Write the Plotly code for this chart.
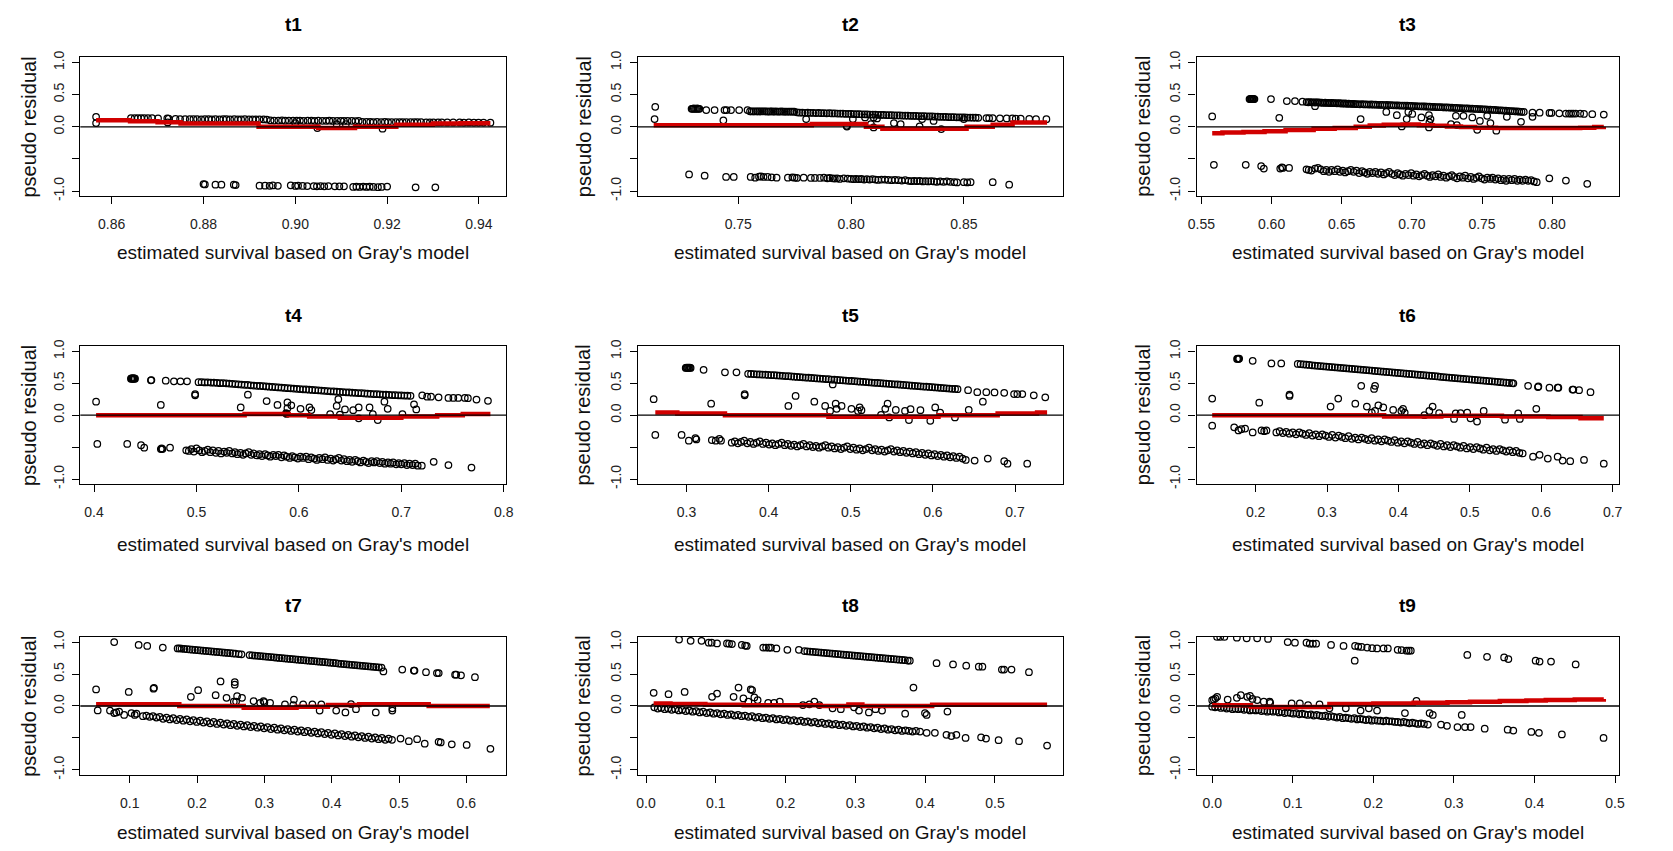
import plotly.graph_objects as go

# ---------------------------------------------------------------------------
# Data: pseudo residuals vs. estimated survival (Gray's model), nine time points
# Each *_PTS list holds (estimated survival, pseudo residual) pairs.
# Each *_FIT list holds the step points of the smoothed residual curve.
# ---------------------------------------------------------------------------
PANEL_TITLES = ["t1", "t2", "t3", "t4", "t5", "t6", "t7", "t8", "t9"]
X_LABEL = "estimated survival based on Gray's model"
Y_LABEL = "pseudo residual"

X_TICKS = [
    [0.86, 0.88, 0.90, 0.92, 0.94],
    [0.75, 0.80, 0.85],
    [0.55, 0.60, 0.65, 0.70, 0.75, 0.80],
    [0.4, 0.5, 0.6, 0.7, 0.8],
    [0.3, 0.4, 0.5, 0.6, 0.7],
    [0.2, 0.3, 0.4, 0.5, 0.6, 0.7],
    [0.1, 0.2, 0.3, 0.4, 0.5, 0.6],
    [0.0, 0.1, 0.2, 0.3, 0.4, 0.5],
    [0.0, 0.1, 0.2, 0.3, 0.4, 0.5],
]
X_TICK_TEXT = [
    ["0.86", "0.88", "0.90", "0.92", "0.94"],
    ["0.75", "0.80", "0.85"],
    ["0.55", "0.60", "0.65", "0.70", "0.75", "0.80"],
    ["0.4", "0.5", "0.6", "0.7", "0.8"],
    ["0.3", "0.4", "0.5", "0.6", "0.7"],
    ["0.2", "0.3", "0.4", "0.5", "0.6", "0.7"],
    ["0.1", "0.2", "0.3", "0.4", "0.5", "0.6"],
    ["0.0", "0.1", "0.2", "0.3", "0.4", "0.5"],
    ["0.0", "0.1", "0.2", "0.3", "0.4", "0.5"],
]
Y_TICKS = [-1.0, -0.5, 0.0, 0.5, 1.0]
Y_TICK_TEXT = ["-1.0", "", "0.0", "0.5", "1.0"]
Y_LIMITS = (-1.0, 1.0)

T1_PTS = [
    (0.8566, 0.155), (0.8566, 0.057), (0.8642, 0.135), (0.8650, 0.134), (0.8657, 0.135), (0.8664, 0.133),
    (0.8671, 0.134), (0.8679, 0.134), (0.8688, 0.133), (0.8701, 0.132), (0.8721, 0.131), (0.8724, 0.127),
    (0.8739, 0.122), (0.8749, 0.121), (0.8760, 0.120),
    (0.8770, 0.119), (0.8778, 0.118), (0.8786, 0.120), (0.8795, 0.117), (0.8803, 0.118), (0.8811, 0.119),
    (0.8818, 0.117), (0.8826, 0.118), (0.8835, 0.116), (0.8843, 0.118), (0.8850, 0.119), (0.8858, 0.117),
    (0.8867, 0.118), (0.8875, 0.116), (0.8882, 0.117), (0.8890, 0.118), (0.8899, 0.116), (0.8907, 0.117),
    (0.8914, 0.115), (0.8922, 0.116), (0.8931, 0.114), (0.8938, 0.112),
    (0.8946, 0.098), (0.8954, 0.097), (0.8963, 0.096), (0.8971, 0.098), (0.8978, 0.095), (0.8986, 0.096),
    (0.8995, 0.094), (0.9003, 0.095), (0.9010, 0.096), (0.9018, 0.093), (0.9027, 0.094), (0.9035, 0.095),
    (0.9042, 0.092), (0.9050, 0.094), (0.9059, 0.093), (0.9067, 0.092), (0.9074, 0.094), (0.9082, 0.091),
    (0.9091, 0.092), (0.9099, 0.093), (0.9106, 0.090), (0.9114, 0.091), (0.9123, 0.092), (0.9131, 0.089),
    (0.9138, 0.090),
    (0.9146, 0.076), (0.9155, 0.075), (0.9163, 0.077), (0.9170, 0.074), (0.9178, 0.075), (0.9187, 0.073),
    (0.9195, 0.075), (0.9202, 0.074), (0.9210, 0.072), (0.9219, 0.074), (0.9227, 0.073), (0.9234, 0.072),
    (0.9242, 0.073), (0.9251, 0.071), (0.9259, 0.072), (0.9266, 0.071), (0.9274, 0.072),
    (0.9285, 0.070), (0.9293, 0.069), (0.9301, 0.070), (0.9311, 0.068), (0.9319, 0.069), (0.9331, 0.068),
    (0.9344, 0.067), (0.9358, 0.068), (0.9367, 0.066), (0.9378, 0.067), (0.9389, 0.066), (0.9399, 0.065),
    (0.9410, 0.066), (0.9425, 0.064),
    (0.8722, 0.067), (0.9000, 0.057), (0.9048, -0.020), (0.9090, 0.040), (0.9110, 0.040), (0.9190, -0.030),
    (0.8800, -0.890), (0.8803, -0.895), (0.8826, -0.900), (0.8839, -0.900), (0.8866, -0.900), (0.8870, -0.905),
    (0.8922, -0.915), (0.8934, -0.915), (0.8944, -0.918), (0.8951, -0.912), (0.8962, -0.918), (0.8990, -0.910),
    (0.9000, -0.920), (0.9006, -0.915), (0.9016, -0.920), (0.9026, -0.922), (0.9040, -0.922), (0.9047, -0.925),
    (0.9055, -0.922), (0.9063, -0.925), (0.9072, -0.922), (0.9086, -0.925), (0.9096, -0.925), (0.9106, -0.925),
    (0.9126, -0.935), (0.9133, -0.930), (0.9140, -0.935), (0.9148, -0.928), (0.9155, -0.935), (0.9162, -0.930),
    (0.9170, -0.935), (0.9180, -0.938), (0.9188, -0.935), (0.9200, -0.928), (0.9262, -0.940), (0.9305, -0.940),
]
T1_FIT = [(0.8566, 0.100), (0.8640, 0.085), (0.8700, 0.070), (0.8750, 0.050), (0.8920, 0.000), (0.9050, -0.020),
          (0.9130, 0.000), (0.9220, 0.030), (0.9300, 0.050), (0.9360, 0.055), (0.9425, 0.055)]

T2_PTS = [
    (0.7132, 0.31), (0.7129, 0.12),
    (0.7293, 0.28), (0.7298, 0.28), (0.7303, 0.285), (0.7308, 0.28), (0.7313, 0.28), (0.7318, 0.285),
    (0.7323, 0.28), (0.7328, 0.28),
    (0.7358, 0.26), (0.7395, 0.26), (0.7434, 0.10), (0.7439, 0.26), (0.7448, 0.26), (0.7468, 0.26),
    (0.7504, 0.26), (0.7541, 0.26),
    (0.7552, 0.240), (0.7560, 0.239), (0.7568, 0.240), (0.7577, 0.238), (0.7585, 0.240), (0.7593, 0.239),
    (0.7601, 0.238), (0.7609, 0.240), (0.7617, 0.238), (0.7626, 0.239), (0.7634, 0.237), (0.7642, 0.238),
    (0.7650, 0.239), (0.7658, 0.237), (0.7666, 0.238), (0.7675, 0.236), (0.7683, 0.237), (0.7691, 0.238),
    (0.7699, 0.236), (0.7707, 0.237), (0.7715, 0.235), (0.7724, 0.236), (0.7732, 0.236), (0.7740, 0.234),
    (0.7748, 0.235),
    (0.7760, 0.225), (0.7772, 0.220), (0.7784, 0.222), (0.7796, 0.218), (0.7808, 0.220), (0.7820, 0.216),
    (0.7832, 0.218), (0.7844, 0.214), (0.7856, 0.215), (0.7868, 0.212), (0.7880, 0.213), (0.7892, 0.210),
    (0.7904, 0.211), (0.7916, 0.208), (0.7928, 0.209), (0.7940, 0.206), (0.7952, 0.205), (0.7964, 0.204),
    (0.7976, 0.202), (0.7988, 0.201), (0.8000, 0.200), (0.8012, 0.198), (0.8024, 0.197), (0.8036, 0.196),
    (0.8048, 0.194), (0.8060, 0.193), (0.8072, 0.192), (0.8084, 0.190), (0.8096, 0.189), (0.8108, 0.188),
    (0.8120, 0.186), (0.8132, 0.185), (0.8144, 0.184), (0.8156, 0.182), (0.8168, 0.181), (0.8180, 0.180),
    (0.8192, 0.178), (0.8204, 0.177), (0.8216, 0.176), (0.8228, 0.174), (0.8240, 0.173), (0.8252, 0.172),
    (0.8264, 0.170), (0.8276, 0.169), (0.8288, 0.168), (0.8300, 0.166), (0.8312, 0.165), (0.8324, 0.164),
    (0.8336, 0.162), (0.8348, 0.161), (0.8360, 0.160), (0.8372, 0.158), (0.8384, 0.157), (0.8396, 0.156),
    (0.8408, 0.154), (0.8420, 0.153), (0.8432, 0.152), (0.8444, 0.150), (0.8456, 0.149), (0.8468, 0.148),
    (0.8480, 0.147), (0.8492, 0.146), (0.8504, 0.145), (0.8516, 0.144), (0.8528, 0.143), (0.8540, 0.142),
    (0.8552, 0.141), (0.8564, 0.140),
    (0.8600, 0.135), (0.8612, 0.134), (0.8628, 0.134), (0.8660, 0.132), (0.8690, 0.130), (0.8715, 0.129),
    (0.8730, 0.128), (0.8752, 0.125), (0.8790, 0.122), (0.8820, 0.120), (0.8866, 0.118),
    (0.7801, 0.12), (0.7980, 0.015), (0.7982, 0.003), (0.8008, 0.12), (0.8062, 0.145), (0.8088, 0.04),
    (0.8100, 0.145), (0.8100, -0.01), (0.8115, 0.13), (0.8190, 0.057), (0.8220, 0.04), (0.8304, 0.005),
    (0.8315, 0.12), (0.8366, 0.09), (0.8400, -0.035), (0.8500, 0.12),
    (0.7282, -0.74), (0.7351, -0.76), (0.7446, -0.78), (0.7480, -0.78), (0.7555, -0.78), (0.7575, -0.79),
    (0.7592, -0.775), (0.7600, -0.77), (0.7612, -0.78), (0.7630, -0.78), (0.7648, -0.785), (0.7670, -0.79),
    (0.7720, -0.79), (0.7740, -0.785), (0.7750, -0.79), (0.7760, -0.795), (0.7790, -0.79), (0.7822, -0.795),
    (0.7840, -0.795), (0.7862, -0.795), (0.7880, -0.79), (0.7895, -0.80), (0.7905, -0.795), (0.7918, -0.80),
    (0.7928, -0.805), (0.7938, -0.80), (0.7950, -0.81), (0.7968, -0.80), (0.7985, -0.805), (0.8000, -0.81),
    (0.8012, -0.815), (0.8022, -0.81), (0.8034, -0.815), (0.8046, -0.81), (0.8058, -0.82), (0.8070, -0.815),
    (0.8082, -0.82), (0.8095, -0.815), (0.8108, -0.82), (0.8120, -0.825), (0.8135, -0.82), (0.8150, -0.82),
    (0.8165, -0.825), (0.8180, -0.83), (0.8195, -0.825), (0.8210, -0.83), (0.8225, -0.835), (0.8240, -0.83),
    (0.8255, -0.84), (0.8268, -0.845), (0.8280, -0.84), (0.8292, -0.845), (0.8305, -0.84), (0.8318, -0.85),
    (0.8330, -0.845), (0.8342, -0.85), (0.8355, -0.845), (0.8368, -0.85), (0.8380, -0.855), (0.8395, -0.85),
    (0.8410, -0.855), (0.8425, -0.85), (0.8440, -0.855), (0.8458, -0.86), (0.8470, -0.865), (0.8500, -0.86),
    (0.8515, -0.865), (0.8530, -0.86), (0.8628, -0.86), (0.8701, -0.90),
]
T2_FIT = [(0.7125, 0.025), (0.7826, 0.045), (0.8066, 0.000), (0.8139, -0.030), (0.8512, 0.000),
          (0.8628, 0.030), (0.8716, 0.065), (0.8869, 0.065)]

T3_PTS = [
    (0.5577, 0.16),
    (0.5843, 0.43), (0.5848, 0.43), (0.5853, 0.435), (0.5858, 0.43), (0.5863, 0.43), (0.5868, 0.435),
    (0.5873, 0.43), (0.5878, 0.43),
    (0.5996, 0.43), (0.6055, 0.14), (0.6109, 0.40), (0.6167, 0.40), (0.6220, 0.39),
    (0.6250, 0.385), (0.6262, 0.380), (0.6274, 0.385), (0.6286, 0.380), (0.6298, 0.378), (0.6310, 0.320),
    (0.6310, 0.380), (0.6322, 0.378), (0.6334, 0.380), (0.6346, 0.375), (0.6358, 0.376), (0.6370, 0.372),
    (0.6382, 0.374), (0.6394, 0.370), (0.6406, 0.372), (0.6418, 0.368), (0.6430, 0.370), (0.6442, 0.366),
    (0.6454, 0.367), (0.6466, 0.365), (0.6478, 0.366), (0.6490, 0.362), (0.6502, 0.363), (0.6514, 0.360),
    (0.6526, 0.362), (0.6538, 0.358), (0.6550, 0.360), (0.6562, 0.356), (0.6574, 0.357), (0.6586, 0.355),
    (0.6598, 0.354),
    (0.6614, 0.352), (0.6630, 0.350), (0.6646, 0.351), (0.6662, 0.348), (0.6678, 0.349), (0.6694, 0.346),
    (0.6710, 0.347), (0.6726, 0.344), (0.6742, 0.345), (0.6758, 0.342), (0.6774, 0.342), (0.6790, 0.340),
    (0.6806, 0.338), (0.6822, 0.339), (0.6838, 0.336), (0.6854, 0.336), (0.6870, 0.333), (0.6886, 0.334),
    (0.6902, 0.331), (0.6918, 0.330), (0.6934, 0.329), (0.6950, 0.327), (0.6966, 0.328), (0.6982, 0.325),
    (0.6998, 0.324), (0.7014, 0.322), (0.7030, 0.322), (0.7046, 0.319), (0.7062, 0.318), (0.7078, 0.316),
    (0.7094, 0.316), (0.7110, 0.313), (0.7126, 0.312), (0.7142, 0.310), (0.7158, 0.309), (0.7174, 0.307),
    (0.7190, 0.306), (0.7206, 0.304), (0.7222, 0.303), (0.7238, 0.301), (0.7254, 0.300), (0.7270, 0.298),
    (0.7286, 0.296), (0.7302, 0.295), (0.7318, 0.293), (0.7334, 0.291), (0.7350, 0.290), (0.7366, 0.288),
    (0.7382, 0.286), (0.7398, 0.285), (0.7414, 0.283), (0.7430, 0.281), (0.7446, 0.279), (0.7462, 0.278),
    (0.7478, 0.276), (0.7494, 0.274), (0.7510, 0.272), (0.7526, 0.270), (0.7542, 0.268), (0.7558, 0.266),
    (0.7574, 0.264), (0.7590, 0.262), (0.7606, 0.259), (0.7622, 0.257), (0.7638, 0.255), (0.7654, 0.252),
    (0.7670, 0.250), (0.7686, 0.248), (0.7702, 0.245), (0.7718, 0.243), (0.7734, 0.240), (0.7750, 0.238),
    (0.7766, 0.235), (0.7782, 0.232), (0.7798, 0.230),
    (0.7860, 0.220), (0.7911, 0.220), (0.7981, 0.215), (0.7995, 0.215), (0.8051, 0.210), (0.8098, 0.205),
    (0.8120, 0.205), (0.8135, 0.205), (0.8150, 0.205), (0.8168, 0.205), (0.8200, 0.205), (0.8227, 0.200),
    (0.8286, 0.195), (0.8368, 0.190),
    (0.6635, 0.12), (0.6818, 0.23), (0.6893, 0.18), (0.6928, 0.005), (0.6963, 0.12), (0.6975, 0.23),
    (0.7003, 0.20), (0.7068, 0.145), (0.7122, 0.18), (0.7122, -0.01), (0.7133, 0.12), (0.7125, 0.07),
    (0.7279, 0.04), (0.7314, 0.17), (0.7321, 0.026), (0.7368, 0.17), (0.7431, 0.145), (0.7485, 0.09),
    (0.7466, -0.046), (0.7537, 0.17), (0.7560, 0.057), (0.7602, -0.06), (0.7677, 0.155), (0.7778, 0.077),
    (0.7860, 0.155),
    (0.5589, -0.59), (0.5816, -0.59), (0.5926, -0.61), (0.5945, -0.65), (0.6062, -0.65), (0.6074, -0.63),
    (0.6080, -0.64), (0.6125, -0.64), (0.6249, -0.66), (0.6265, -0.67), (0.6284, -0.68), (0.6310, -0.65),
    (0.6331, -0.64),
    (0.6350, -0.66), (0.6372, -0.69), (0.6390, -0.67), (0.6410, -0.70), (0.6428, -0.67), (0.6450, -0.69),
    (0.6470, -0.66), (0.6488, -0.70), (0.6508, -0.68), (0.6525, -0.71), (0.6545, -0.69), (0.6565, -0.67),
    (0.6585, -0.70), (0.6605, -0.68), (0.6625, -0.72), (0.6645, -0.69), (0.6662, -0.71), (0.6682, -0.73),
    (0.6700, -0.70), (0.6720, -0.72), (0.6740, -0.70), (0.6760, -0.73), (0.6780, -0.71), (0.6800, -0.74),
    (0.6818, -0.72), (0.6838, -0.70), (0.6858, -0.73), (0.6878, -0.75), (0.6898, -0.72), (0.6915, -0.74),
    (0.6935, -0.76), (0.6955, -0.73), (0.6975, -0.75), (0.6995, -0.72), (0.7012, -0.76), (0.7032, -0.74),
    (0.7052, -0.77), (0.7070, -0.75), (0.7090, -0.73), (0.7110, -0.76), (0.7128, -0.78), (0.7148, -0.75),
    (0.7168, -0.77), (0.7188, -0.74), (0.7205, -0.78), (0.7225, -0.76), (0.7245, -0.79), (0.7265, -0.77),
    (0.7285, -0.75), (0.7302, -0.78), (0.7322, -0.80), (0.7342, -0.77), (0.7362, -0.79), (0.7380, -0.76),
    (0.7400, -0.80), (0.7420, -0.78), (0.7440, -0.81), (0.7460, -0.79), (0.7478, -0.77), (0.7498, -0.80),
    (0.7518, -0.82), (0.7538, -0.79), (0.7558, -0.81), (0.7575, -0.79), (0.7595, -0.82), (0.7615, -0.80),
    (0.7635, -0.83), (0.7655, -0.81), (0.7672, -0.84), (0.7692, -0.81), (0.7712, -0.83), (0.7732, -0.81),
    (0.7752, -0.84), (0.7770, -0.82), (0.7790, -0.84), (0.7810, -0.82), (0.7830, -0.84), (0.7850, -0.83),
    (0.7870, -0.85), (0.7890, -0.86),
    (0.7980, -0.80), (0.8098, -0.835), (0.8250, -0.886),
]
T3_FIT = [(0.5577, -0.100), (0.5650, -0.090), (0.5800, -0.080), (0.5950, -0.070), (0.6100, -0.050),
          (0.6300, -0.030), (0.6450, -0.020), (0.6600, 0.000), (0.6700, 0.020), (0.6800, 0.030),
          (0.6950, 0.035), (0.7050, 0.025), (0.7150, 0.015), (0.7250, 0.005), (0.7350, -0.005),
          (0.7450, -0.015), (0.7600, -0.020), (0.7800, -0.020), (0.8000, -0.020), (0.8200, -0.015),
          (0.8300, -0.005), (0.8368, 0.000)]

T4_PTS = [
    (0.4020, 0.21),
    (0.4360, 0.57), (0.4365, 0.575), (0.4370, 0.57), (0.4375, 0.575), (0.4380, 0.57), (0.4385, 0.575),
    (0.4390, 0.57), (0.4395, 0.575), (0.4400, 0.57),
    (0.4555, 0.545), (0.4560, 0.55), (0.4700, 0.54), (0.4780, 0.53), (0.4844, 0.53), (0.4908, 0.53),
    (0.4652, 0.16), (0.4987, 0.31), (0.4987, 0.33),
    (0.5020, 0.515), (0.5050, 0.516), (0.5080, 0.512), (0.5110, 0.514), (0.5140, 0.510), (0.5170, 0.508),
    (0.5200, 0.506), (0.5230, 0.500), (0.5260, 0.502), (0.5290, 0.498), (0.5320, 0.494), (0.5350, 0.490),
    (0.5380, 0.486), (0.5410, 0.482), (0.5440, 0.479), (0.5470, 0.475), (0.5500, 0.472), (0.5530, 0.468),
    (0.5560, 0.464), (0.5590, 0.460), (0.5620, 0.457), (0.5650, 0.453), (0.5680, 0.449), (0.5710, 0.446),
    (0.5740, 0.442), (0.5770, 0.438), (0.5800, 0.434), (0.5830, 0.431), (0.5860, 0.427), (0.5890, 0.423),
    (0.5920, 0.420), (0.5950, 0.416), (0.5980, 0.412), (0.6010, 0.409), (0.6040, 0.405), (0.6070, 0.402),
    (0.6100, 0.398), (0.6130, 0.395), (0.6160, 0.391), (0.6190, 0.388), (0.6220, 0.384), (0.6250, 0.381),
    (0.6280, 0.378), (0.6310, 0.374), (0.6340, 0.371), (0.6370, 0.368), (0.6400, 0.364), (0.6430, 0.361),
    (0.6460, 0.358), (0.6490, 0.355), (0.6520, 0.352), (0.6550, 0.349), (0.6580, 0.346), (0.6610, 0.343),
    (0.6640, 0.340), (0.6670, 0.337), (0.6700, 0.334), (0.6730, 0.331), (0.6760, 0.328), (0.6790, 0.326),
    (0.6820, 0.323), (0.6850, 0.320), (0.6880, 0.318), (0.6910, 0.315), (0.6940, 0.313), (0.6970, 0.310),
    (0.7000, 0.308), (0.7030, 0.306), (0.7060, 0.304), (0.7090, 0.302),
    (0.7204, 0.31), (0.7252, 0.29), (0.7290, 0.29), (0.7364, 0.28), (0.7460, 0.27), (0.7508, 0.27),
    (0.7556, 0.27), (0.7620, 0.27), (0.7650, 0.265), (0.7734, 0.245), (0.7846, 0.225),
    (0.5432, 0.12), (0.5502, 0.32), (0.5685, 0.22), (0.5791, 0.16), (0.5888, 0.20), (0.5926, 0.155),
    (0.5888, 0.11), (0.5875, 0.03), (0.5880, 0.02), (0.6016, 0.10), (0.6103, 0.12), (0.6122, 0.08),
    (0.6305, 0.015), (0.6369, 0.145), (0.6385, 0.25), (0.6400, 0.01), (0.6450, 0.09), (0.6530, 0.077),
    (0.6584, 0.12), (0.6584, -0.05), (0.6690, 0.12), (0.6722, 0.015), (0.6770, -0.077), (0.6835, 0.21),
    (0.6867, 0.10), (0.7011, 0.015), (0.7124, 0.17), (0.7146, 0.09),
    (0.4032, -0.45), (0.4324, -0.45), (0.4459, -0.47), (0.4490, -0.51), (0.4652, -0.53), (0.4660, -0.52),
    (0.4668, -0.53), (0.4742, -0.51),
    (0.4900, -0.55), (0.4925, -0.56), (0.4950, -0.53), (0.4975, -0.57), (0.5000, -0.52), (0.5028, -0.55),
    (0.5055, -0.58), (0.5080, -0.56), (0.5110, -0.54), (0.5135, -0.58), (0.5160, -0.55), (0.5190, -0.59),
    (0.5215, -0.56), (0.5240, -0.60), (0.5270, -0.57), (0.5295, -0.59), (0.5320, -0.56), (0.5350, -0.60),
    (0.5375, -0.58), (0.5400, -0.61), (0.5430, -0.59), (0.5455, -0.62), (0.5480, -0.60), (0.5510, -0.58),
    (0.5535, -0.62), (0.5560, -0.60), (0.5590, -0.63), (0.5615, -0.61), (0.5640, -0.64), (0.5670, -0.61),
    (0.5695, -0.63), (0.5720, -0.65), (0.5750, -0.62), (0.5775, -0.64), (0.5800, -0.62), (0.5830, -0.66),
    (0.5855, -0.63), (0.5880, -0.65), (0.5910, -0.67), (0.5935, -0.64), (0.5960, -0.66), (0.5990, -0.68),
    (0.6015, -0.65), (0.6040, -0.67), (0.6070, -0.65), (0.6095, -0.69), (0.6120, -0.66), (0.6150, -0.68),
    (0.6175, -0.70), (0.6200, -0.67), (0.6230, -0.69), (0.6255, -0.66), (0.6280, -0.70), (0.6310, -0.68),
    (0.6335, -0.71), (0.6360, -0.69), (0.6390, -0.67), (0.6415, -0.71), (0.6440, -0.69), (0.6470, -0.72),
    (0.6495, -0.70), (0.6520, -0.73), (0.6550, -0.70), (0.6575, -0.72), (0.6600, -0.74), (0.6630, -0.71),
    (0.6655, -0.73), (0.6680, -0.75), (0.6710, -0.72), (0.6735, -0.74), (0.6760, -0.72), (0.6790, -0.75),
    (0.6815, -0.73), (0.6840, -0.76), (0.6870, -0.74), (0.6895, -0.76), (0.6920, -0.74), (0.6950, -0.77),
    (0.6975, -0.75), (0.7000, -0.77), (0.7030, -0.75), (0.7055, -0.78), (0.7080, -0.76), (0.7110, -0.78),
    (0.7135, -0.76), (0.7160, -0.79), (0.7200, -0.79),
    (0.7316, -0.73), (0.7460, -0.78), (0.7685, -0.82),
]
T4_FIT = [(0.4020, 0.000), (0.5470, 0.020), (0.5900, 0.000), (0.6100, -0.020), (0.6400, -0.040),
          (0.7000, -0.020), (0.7350, 0.000), (0.7600, 0.020), (0.7870, 0.020)]

T5_PTS = [
    (0.2600, 0.25),
    (0.2990, 0.74), (0.3000, 0.745), (0.3010, 0.74), (0.3020, 0.745), (0.3030, 0.74), (0.3040, 0.745),
    (0.3050, 0.74), (0.3208, 0.71), (0.3468, 0.67), (0.3608, 0.67),
    (0.3750, 0.648), (0.3785, 0.645), (0.3820, 0.644), (0.3855, 0.640), (0.3890, 0.638), (0.3925, 0.636),
    (0.3960, 0.633), (0.3995, 0.630), (0.4030, 0.628), (0.4065, 0.625), (0.4100, 0.622), (0.4135, 0.619),
    (0.4170, 0.616), (0.4205, 0.612), (0.4240, 0.609), (0.4275, 0.606), (0.4310, 0.602), (0.4345, 0.599),
    (0.4380, 0.596), (0.4415, 0.592), (0.4450, 0.589), (0.4485, 0.586), (0.4520, 0.582), (0.4555, 0.579),
    (0.4590, 0.575), (0.4625, 0.572), (0.4660, 0.569), (0.4695, 0.565), (0.4730, 0.562), (0.4765, 0.558),
    (0.4800, 0.555), (0.4835, 0.552), (0.4870, 0.548), (0.4905, 0.545), (0.4940, 0.541), (0.4975, 0.538),
    (0.5010, 0.535), (0.5045, 0.531), (0.5080, 0.528), (0.5115, 0.524), (0.5150, 0.521), (0.5185, 0.518),
    (0.5220, 0.514), (0.5255, 0.511), (0.5290, 0.507), (0.5325, 0.504), (0.5360, 0.500), (0.5395, 0.497),
    (0.5430, 0.494), (0.5465, 0.490), (0.5500, 0.487), (0.5535, 0.483), (0.5570, 0.480), (0.5605, 0.476),
    (0.5640, 0.473), (0.5675, 0.469), (0.5710, 0.466), (0.5745, 0.462), (0.5780, 0.459), (0.5815, 0.455),
    (0.5850, 0.452), (0.5885, 0.448), (0.5920, 0.445), (0.5955, 0.441), (0.5990, 0.438), (0.6025, 0.434),
    (0.6060, 0.431), (0.6095, 0.427), (0.6130, 0.424), (0.6165, 0.420), (0.6200, 0.417), (0.6235, 0.413),
    (0.6270, 0.410), (0.6300, 0.407),
    (0.6428, 0.39), (0.6540, 0.36), (0.6650, 0.36), (0.6750, 0.355), (0.6868, 0.35), (0.6988, 0.33),
    (0.7028, 0.33), (0.7088, 0.33), (0.7228, 0.31), (0.7368, 0.28),
    (0.3300, 0.18), (0.3708, 0.31), (0.3708, 0.33), (0.4240, 0.145), (0.4328, 0.30), (0.4556, 0.21),
    (0.4688, 0.145), (0.4748, 0.067), (0.4780, 0.48), (0.4816, 0.18), (0.4828, 0.10), (0.4888, 0.145),
    (0.5008, 0.10), (0.5088, 0.067), (0.5108, 0.12), (0.5130, 0.077), (0.5368, 0.005), (0.5448, 0.18),
    (0.5420, 0.10), (0.5468, -0.036), (0.5548, 0.082), (0.5660, 0.067), (0.5708, -0.077), (0.5728, 0.093),
    (0.5848, 0.077), (0.5968, -0.088), (0.6028, 0.12), (0.6088, 0.04), (0.6268, -0.036), (0.6436, 0.082),
    (0.6608, 0.21),
    (0.2620, -0.31), (0.2940, -0.31), (0.3028, -0.40), (0.3108, -0.36), (0.3120, -0.38), (0.3308, -0.39),
    (0.3355, -0.40), (0.3400, -0.37), (0.3420, -0.40),
    (0.3550, -0.43), (0.3588, -0.41), (0.3626, -0.44), (0.3664, -0.42), (0.3702, -0.40), (0.3740, -0.44),
    (0.3778, -0.42), (0.3816, -0.45), (0.3854, -0.43), (0.3892, -0.41), (0.3930, -0.45), (0.3968, -0.43),
    (0.4006, -0.46), (0.4044, -0.44), (0.4082, -0.47), (0.4120, -0.45), (0.4158, -0.43), (0.4196, -0.47),
    (0.4234, -0.45), (0.4272, -0.48), (0.4310, -0.46), (0.4348, -0.49), (0.4386, -0.47), (0.4424, -0.45),
    (0.4462, -0.49), (0.4500, -0.47), (0.4538, -0.50), (0.4576, -0.48), (0.4614, -0.51), (0.4652, -0.49),
    (0.4690, -0.47), (0.4728, -0.51), (0.4766, -0.49), (0.4804, -0.52), (0.4842, -0.50), (0.4880, -0.53),
    (0.4918, -0.51), (0.4956, -0.49), (0.4994, -0.53), (0.5032, -0.51), (0.5070, -0.54), (0.5108, -0.52),
    (0.5146, -0.55), (0.5184, -0.53), (0.5222, -0.51), (0.5260, -0.55), (0.5298, -0.53), (0.5336, -0.56),
    (0.5374, -0.54), (0.5412, -0.57), (0.5450, -0.55), (0.5488, -0.53), (0.5526, -0.57), (0.5564, -0.55),
    (0.5602, -0.58), (0.5640, -0.56), (0.5678, -0.59), (0.5716, -0.57), (0.5754, -0.60), (0.5792, -0.58),
    (0.5830, -0.61), (0.5868, -0.59), (0.5906, -0.62), (0.5944, -0.60), (0.5982, -0.63), (0.6020, -0.61),
    (0.6058, -0.64), (0.6096, -0.62), (0.6134, -0.65), (0.6172, -0.63), (0.6210, -0.66), (0.6248, -0.64),
    (0.6286, -0.67), (0.6324, -0.65), (0.6362, -0.68), (0.6400, -0.70),
    (0.6508, -0.71), (0.6668, -0.68), (0.6868, -0.72), (0.6908, -0.76), (0.7148, -0.76),
]
T5_FIT = [(0.2620, 0.040), (0.2888, 0.026), (0.3468, 0.000), (0.4728, -0.026), (0.6068, 0.000),
          (0.6788, 0.026), (0.7268, 0.040), (0.7390, 0.040)]

T6_PTS = [
    (0.1392, 0.26),
    (0.1740, 0.88), (0.1750, 0.885), (0.1760, 0.88), (0.1770, 0.885), (0.1959, 0.85), (0.2221, 0.81),
    (0.2359, 0.81),
    (0.2590, 0.801), (0.2630, 0.797), (0.2670, 0.793), (0.2710, 0.789), (0.2750, 0.785), (0.2790, 0.781),
    (0.2830, 0.777), (0.2870, 0.773), (0.2910, 0.769), (0.2950, 0.765), (0.2990, 0.761), (0.3030, 0.757),
    (0.3070, 0.753), (0.3110, 0.749), (0.3150, 0.745), (0.3190, 0.741), (0.3230, 0.737), (0.3270, 0.733),
    (0.3310, 0.729), (0.3350, 0.725), (0.3390, 0.721), (0.3430, 0.717), (0.3470, 0.713), (0.3510, 0.709),
    (0.3550, 0.705), (0.3590, 0.701), (0.3630, 0.697), (0.3670, 0.693), (0.3710, 0.689), (0.3750, 0.685),
    (0.3790, 0.681), (0.3830, 0.677), (0.3870, 0.673), (0.3910, 0.669), (0.3950, 0.665), (0.3990, 0.661),
    (0.4030, 0.657), (0.4070, 0.653), (0.4110, 0.649), (0.4150, 0.645), (0.4190, 0.641), (0.4230, 0.637),
    (0.4270, 0.633), (0.4310, 0.629), (0.4350, 0.625), (0.4390, 0.621), (0.4430, 0.617), (0.4470, 0.613),
    (0.4510, 0.609), (0.4550, 0.605), (0.4590, 0.601), (0.4630, 0.597), (0.4670, 0.593), (0.4710, 0.589),
    (0.4750, 0.585), (0.4790, 0.581), (0.4830, 0.577), (0.4870, 0.573), (0.4910, 0.569), (0.4950, 0.565),
    (0.4990, 0.561), (0.5030, 0.557), (0.5070, 0.553), (0.5110, 0.549), (0.5150, 0.545), (0.5190, 0.541),
    (0.5230, 0.537), (0.5270, 0.533), (0.5310, 0.529), (0.5350, 0.525), (0.5390, 0.521), (0.5430, 0.517),
    (0.5470, 0.513), (0.5510, 0.509), (0.5550, 0.505), (0.5590, 0.501), (0.5610, 0.499),
    (0.5816, 0.46), (0.5954, 0.44), (0.5960, 0.45), (0.6115, 0.43), (0.6230, 0.43), (0.6240, 0.43),
    (0.6438, 0.40), (0.6450, 0.40), (0.6530, 0.39), (0.6690, 0.36),
    (0.2051, 0.196), (0.2475, 0.30), (0.2475, 0.32), (0.3050, 0.134), (0.3157, 0.26), (0.3396, 0.18),
    (0.3479, 0.46), (0.3558, 0.134), (0.3659, 0.41), (0.3673, 0.46), (0.3627, 0.04), (0.3719, 0.155),
    (0.3673, 0.067), (0.3788, 0.12), (0.3926, 0.082), (0.4041, 0.067), (0.4065, 0.10), (0.4088, 0.04),
    (0.4364, 0.0), (0.4433, 0.067), (0.4479, 0.134), (0.4570, 0.03), (0.4779, -0.06), (0.4802, 0.026),
    (0.4870, 0.03), (0.4963, 0.04), (0.5009, -0.05), (0.5101, -0.10), (0.5194, 0.067), (0.5493, -0.07),
    (0.5677, 0.026), (0.5700, -0.06), (0.5931, 0.10),
    (0.1392, -0.165), (0.1700, -0.19), (0.1760, -0.24), (0.1800, -0.22), (0.1853, -0.21), (0.1959, -0.27),
    (0.2083, -0.24), (0.2120, -0.25), (0.2152, -0.24),
    (0.2290, -0.27), (0.2336, -0.25), (0.2382, -0.28), (0.2428, -0.26), (0.2474, -0.29), (0.2520, -0.27),
    (0.2566, -0.30), (0.2612, -0.27), (0.2658, -0.29), (0.2704, -0.31), (0.2750, -0.28), (0.2796, -0.32),
    (0.2842, -0.30), (0.2888, -0.33), (0.2934, -0.30), (0.2980, -0.32), (0.3026, -0.34), (0.3072, -0.31),
    (0.3118, -0.35), (0.3164, -0.32), (0.3210, -0.34), (0.3256, -0.36), (0.3302, -0.33), (0.3348, -0.37),
    (0.3394, -0.35), (0.3440, -0.38), (0.3486, -0.35), (0.3532, -0.37), (0.3578, -0.39), (0.3624, -0.36),
    (0.3670, -0.40), (0.3716, -0.38), (0.3762, -0.41), (0.3808, -0.38), (0.3854, -0.40), (0.3900, -0.42),
    (0.3946, -0.39), (0.3992, -0.43), (0.4038, -0.41), (0.4084, -0.44), (0.4130, -0.41), (0.4176, -0.43),
    (0.4222, -0.45), (0.4268, -0.42), (0.4314, -0.46), (0.4360, -0.44), (0.4406, -0.47), (0.4452, -0.44),
    (0.4498, -0.46), (0.4544, -0.48), (0.4590, -0.45), (0.4636, -0.49), (0.4682, -0.47), (0.4728, -0.50),
    (0.4774, -0.47), (0.4820, -0.49), (0.4866, -0.51), (0.4912, -0.48), (0.4958, -0.52), (0.5004, -0.50),
    (0.5050, -0.53), (0.5096, -0.50), (0.5142, -0.52), (0.5188, -0.54), (0.5234, -0.51), (0.5280, -0.55),
    (0.5326, -0.53), (0.5372, -0.56), (0.5418, -0.53), (0.5464, -0.55), (0.5510, -0.57), (0.5556, -0.55),
    (0.5602, -0.58), (0.5648, -0.56), (0.5694, -0.59), (0.5740, -0.60),
    (0.5885, -0.65), (0.5977, -0.62), (0.6092, -0.68), (0.6230, -0.65), (0.6300, -0.71), (0.6406, -0.72),
    (0.6599, -0.70), (0.6876, -0.76),
]
T6_FIT = [(0.1392, 0.000), (0.3800, -0.020), (0.4600, -0.010), (0.5450, -0.020), (0.6100, -0.030),
          (0.6550, -0.050), (0.6876, -0.050)]

T7_PTS = [
    (0.0769, 1.0), (0.1132, 0.955), (0.1260, 0.94), (0.1491, 0.915), (0.1711, 0.90), (0.1740, 0.90),
    (0.1770, 0.898), (0.1810, 0.894), (0.1850, 0.890), (0.1890, 0.886), (0.1930, 0.882), (0.1970, 0.878),
    (0.2010, 0.874), (0.2050, 0.870), (0.2090, 0.866), (0.2130, 0.862), (0.2170, 0.858), (0.2210, 0.854),
    (0.2250, 0.850), (0.2290, 0.846), (0.2330, 0.842), (0.2370, 0.838), (0.2410, 0.834), (0.2450, 0.830),
    (0.2490, 0.826), (0.2530, 0.822), (0.2570, 0.818), (0.2620, 0.813), (0.2660, 0.809), (0.2780, 0.797),
    (0.2820, 0.793), (0.2860, 0.789), (0.2900, 0.785), (0.2940, 0.781), (0.2980, 0.777), (0.3020, 0.773),
    (0.3060, 0.769), (0.3100, 0.765), (0.3140, 0.761), (0.3180, 0.757), (0.3220, 0.753), (0.3260, 0.749),
    (0.3300, 0.745), (0.3340, 0.741), (0.3380, 0.737), (0.3420, 0.733), (0.3460, 0.729), (0.3500, 0.725),
    (0.3540, 0.721), (0.3580, 0.717), (0.3620, 0.713), (0.3660, 0.709), (0.3700, 0.705), (0.3740, 0.701),
    (0.3780, 0.697), (0.3820, 0.693), (0.3860, 0.689), (0.3900, 0.685), (0.3940, 0.681), (0.3980, 0.677),
    (0.4020, 0.673), (0.4060, 0.669), (0.4100, 0.665), (0.4140, 0.661), (0.4180, 0.657), (0.4220, 0.653),
    (0.4260, 0.649), (0.4300, 0.645), (0.4340, 0.641), (0.4380, 0.637), (0.4420, 0.633), (0.4460, 0.629),
    (0.4500, 0.625), (0.4540, 0.621), (0.4580, 0.617), (0.4620, 0.613), (0.4660, 0.609), (0.4700, 0.605),
    (0.4740, 0.601), (0.4768, 0.540),
    (0.5048, 0.57), (0.5220, 0.555), (0.5230, 0.555), (0.5401, 0.53), (0.5563, 0.515), (0.5590, 0.515),
    (0.5833, 0.49), (0.5850, 0.49), (0.5921, 0.48), (0.6128, 0.45),
    (0.0500, 0.26), (0.0985, 0.22), (0.1353, 0.27), (0.1360, 0.285), (0.1908, 0.144), (0.2016, 0.247),
    (0.2276, 0.17), (0.2349, 0.385), (0.2560, 0.334), (0.2560, 0.375), (0.2438, 0.129), (0.2546, 0.067),
    (0.2580, 0.07), (0.2595, 0.154), (0.2668, 0.128), (0.2840, 0.077), (0.2938, 0.05), (0.2987, 0.077),
    (0.3000, 0.06), (0.3085, 0.05), (0.3306, 0.026), (0.3439, 0.10), (0.3429, 0.015), (0.3576, 0.026),
    (0.3713, 0.026), (0.3821, -0.072), (0.3846, 0.026), (0.4067, -0.072), (0.4204, -0.10), (0.4287, 0.03),
    (0.4361, -0.05), (0.4655, -0.10), (0.4901, -0.072), (0.4901, -0.036),
    (0.0524, -0.07), (0.0706, -0.072), (0.0769, -0.11), (0.0800, -0.10), (0.0843, -0.087), (0.0917, -0.14),
    (0.1025, -0.11), (0.1074, -0.14), (0.1100, -0.12),
    (0.1196, -0.16), (0.1246, -0.15), (0.1296, -0.17), (0.1346, -0.16), (0.1396, -0.18), (0.1446, -0.17),
    (0.1496, -0.20), (0.1546, -0.18), (0.1596, -0.21), (0.1646, -0.19), (0.1696, -0.22), (0.1746, -0.20),
    (0.1796, -0.23), (0.1846, -0.21), (0.1896, -0.24), (0.1946, -0.22), (0.1996, -0.25), (0.2046, -0.23),
    (0.2096, -0.26), (0.2146, -0.24), (0.2196, -0.27), (0.2246, -0.25), (0.2296, -0.28), (0.2346, -0.26),
    (0.2396, -0.29), (0.2446, -0.27), (0.2496, -0.30), (0.2546, -0.28), (0.2596, -0.31), (0.2646, -0.29),
    (0.2696, -0.32), (0.2746, -0.30), (0.2796, -0.33), (0.2846, -0.31), (0.2896, -0.34), (0.2946, -0.32),
    (0.2996, -0.35), (0.3046, -0.33), (0.3096, -0.36), (0.3146, -0.34), (0.3196, -0.37), (0.3246, -0.35),
    (0.3296, -0.38), (0.3346, -0.36), (0.3396, -0.39), (0.3446, -0.37), (0.3496, -0.40), (0.3546, -0.38),
    (0.3596, -0.41), (0.3646, -0.39), (0.3696, -0.42), (0.3746, -0.40), (0.3796, -0.43), (0.3846, -0.41),
    (0.3896, -0.44), (0.3946, -0.42), (0.3996, -0.45), (0.4046, -0.43), (0.4096, -0.46), (0.4146, -0.44),
    (0.4196, -0.47), (0.4246, -0.45), (0.4296, -0.48), (0.4346, -0.46), (0.4396, -0.49), (0.4446, -0.47),
    (0.4496, -0.50), (0.4546, -0.48), (0.4596, -0.51), (0.4646, -0.49), (0.4696, -0.52), (0.4746, -0.50),
    (0.4796, -0.53), (0.4846, -0.51), (0.4896, -0.53),
    (0.5023, -0.51), (0.5146, -0.55), (0.5269, -0.52), (0.5382, -0.59), (0.5588, -0.56), (0.5620, -0.57),
    (0.5784, -0.60), (0.6005, -0.61), (0.6358, -0.67),
]
T7_FIT = [(0.0500, 0.026), (0.1736, 0.000), (0.2693, -0.026), (0.3478, -0.010), (0.3944, 0.015),
          (0.4410, 0.026), (0.5441, 0.000), (0.6349, 0.000)]

T8_PTS = [
    (0.0473, 1.04), (0.0639, 1.02), (0.0795, 1.02), (0.0898, 0.99), (0.0940, 0.99), (0.1017, 0.98),
    (0.1159, 0.98), (0.1190, 0.975), (0.1230, 0.97), (0.1372, 0.956), (0.1420, 0.945), (0.1443, 0.94),
    (0.1679, 0.915), (0.1720, 0.915), (0.1760, 0.912), (0.1790, 0.912), (0.1868, 0.90), (0.2025, 0.88),
    (0.2190, 0.88),
    (0.2270, 0.860), (0.2310, 0.856), (0.2350, 0.852), (0.2390, 0.848), (0.2430, 0.844), (0.2470, 0.840),
    (0.2510, 0.836), (0.2550, 0.832), (0.2590, 0.828), (0.2630, 0.824), (0.2670, 0.820), (0.2710, 0.816),
    (0.2750, 0.812), (0.2790, 0.808), (0.2830, 0.804), (0.2870, 0.800), (0.2910, 0.796), (0.2950, 0.792),
    (0.2990, 0.788), (0.3030, 0.784), (0.3070, 0.780), (0.3110, 0.776), (0.3150, 0.772), (0.3190, 0.768),
    (0.3230, 0.764), (0.3270, 0.760), (0.3310, 0.756), (0.3350, 0.752), (0.3390, 0.748), (0.3430, 0.744),
    (0.3470, 0.740), (0.3510, 0.736), (0.3550, 0.732), (0.3590, 0.728), (0.3630, 0.724), (0.3670, 0.720),
    (0.3710, 0.716), (0.3750, 0.712), (0.3780, 0.709),
    (0.4163, 0.67), (0.4399, 0.65), (0.4588, 0.63), (0.4768, 0.615), (0.4820, 0.615), (0.5099, 0.57),
    (0.5130, 0.57), (0.5237, 0.57), (0.5487, 0.53),
    (0.0109, 0.206), (0.0322, 0.185), (0.0553, 0.22), (0.0946, 0.144), (0.1017, 0.195), (0.1254, 0.144),
    (0.1325, 0.288), (0.1395, 0.118), (0.1500, 0.26), (0.1520, 0.25), (0.1466, 0.067), (0.1552, 0.134),
    (0.1599, 0.093), (0.1750, 0.05), (0.1835, 0.05), (0.1916, 0.067), (0.2247, 0.015), (0.2341, 0.026),
    (0.2412, 0.067), (0.2483, 0.015), (0.2673, -0.036), (0.2791, -0.05), (0.2980, -0.02), (0.3051, -0.072),
    (0.3193, -0.10), (0.3288, -0.05), (0.3382, -0.072), (0.3713, -0.12), (0.3832, 0.288), (0.3997, -0.11),
    (0.4021, -0.14), (0.4319, -0.087),
    (0.0118, -0.02), (0.0168, -0.04), (0.0218, -0.03), (0.0268, -0.05), (0.0318, -0.04), (0.0368, -0.06),
    (0.0418, -0.05), (0.0468, -0.07), (0.0518, -0.06), (0.0568, -0.08), (0.0618, -0.07), (0.0668, -0.09),
    (0.0718, -0.08), (0.0768, -0.10), (0.0818, -0.09), (0.0868, -0.11), (0.0918, -0.10), (0.0968, -0.12),
    (0.1018, -0.11), (0.1068, -0.13), (0.1118, -0.12), (0.1168, -0.14), (0.1218, -0.13), (0.1268, -0.15),
    (0.1318, -0.14), (0.1368, -0.16), (0.1418, -0.15), (0.1468, -0.17), (0.1518, -0.16), (0.1568, -0.18),
    (0.1618, -0.17), (0.1668, -0.19), (0.1718, -0.18), (0.1768, -0.20), (0.1818, -0.19), (0.1868, -0.21),
    (0.1918, -0.20), (0.1968, -0.22), (0.2018, -0.21), (0.2068, -0.23), (0.2118, -0.22), (0.2168, -0.24),
    (0.2218, -0.23), (0.2268, -0.25), (0.2318, -0.24), (0.2368, -0.26), (0.2418, -0.25), (0.2468, -0.27),
    (0.2518, -0.26), (0.2568, -0.28), (0.2618, -0.27), (0.2668, -0.29), (0.2718, -0.28), (0.2768, -0.30),
    (0.2818, -0.29), (0.2868, -0.31), (0.2918, -0.30), (0.2968, -0.32), (0.3018, -0.31), (0.3068, -0.33),
    (0.3118, -0.32), (0.3168, -0.34), (0.3218, -0.33), (0.3268, -0.35), (0.3318, -0.34), (0.3368, -0.36),
    (0.3418, -0.35), (0.3468, -0.37), (0.3518, -0.36), (0.3568, -0.38), (0.3618, -0.37), (0.3668, -0.39),
    (0.3718, -0.38), (0.3768, -0.39), (0.3818, -0.40), (0.3868, -0.39), (0.3926, -0.40),
    (0.4021, -0.42), (0.4139, -0.42), (0.4305, -0.45), (0.4376, -0.47), (0.4447, -0.45), (0.4579, -0.50),
    (0.4801, -0.49), (0.4872, -0.51), (0.5052, -0.535), (0.5345, -0.55), (0.5747, -0.62),
]
T8_FIT = [(0.0109, 0.040), (0.0350, 0.030), (0.0850, 0.020), (0.1400, 0.010), (0.2500, 0.000),
          (0.2900, 0.025), (0.3100, 0.000), (0.4100, 0.020), (0.5747, 0.020)]

T9_PTS = [
    (0.0061, 1.08), (0.0100, 1.08), (0.0151, 1.08), (0.0306, 1.07), (0.0428, 1.06), (0.0558, 1.06),
    (0.0693, 1.05), (0.0937, 1.00), (0.1027, 0.99), (0.1170, 0.99), (0.1210, 0.975), (0.1250, 0.975),
    (0.1290, 0.975), (0.1475, 0.955), (0.1630, 0.94), (0.1769, 0.71), (0.1773, 0.94), (0.1813, 0.93),
    (0.1854, 0.925), (0.1923, 0.915), (0.1985, 0.905), (0.2046, 0.90), (0.2127, 0.90), (0.2180, 0.90),
    (0.2302, 0.88), (0.2351, 0.875), (0.2412, 0.865), (0.2440, 0.865), (0.2465, 0.865), (0.3166, 0.80),
    (0.3411, 0.77), (0.3623, 0.76), (0.3676, 0.735), (0.4014, 0.71), (0.4063, 0.695), (0.4205, 0.695),
    (0.4511, 0.65),
    (0.0000, 0.09), (0.0020, 0.10), (0.0040, 0.12), (0.0061, 0.144), (0.0192, 0.10), (0.0306, 0.129),
    (0.0355, 0.17), (0.0436, 0.144), (0.0469, 0.16), (0.0500, 0.11), (0.0558, 0.093), (0.0640, 0.067),
    (0.0713, 0.067), (0.0720, 0.05), (0.0986, 0.04), (0.1088, 0.04), (0.1190, 0.015), (0.1332, 0.026),
    (0.1455, -0.036), (0.1658, -0.036), (0.1842, -0.072), (0.1944, -0.036), (0.2046, -0.072),
    (0.2392, -0.11), (0.2535, 0.082), (0.2698, -0.11), (0.2738, -0.14), (0.3097, -0.14),
    (0.0000, -0.01), (0.0036, -0.02), (0.0072, -0.01), (0.0108, -0.03), (0.0144, -0.02), (0.0180, -0.04),
    (0.0216, -0.03), (0.0252, -0.05), (0.0288, -0.04), (0.0324, -0.05), (0.0360, -0.04), (0.0396, -0.06),
    (0.0432, -0.05), (0.0468, -0.07), (0.0504, -0.06), (0.0540, -0.07), (0.0576, -0.06), (0.0612, -0.08),
    (0.0648, -0.07), (0.0684, -0.09), (0.0720, -0.08), (0.0756, -0.09), (0.0792, -0.08), (0.0828, -0.10),
    (0.0864, -0.09), (0.0900, -0.11), (0.0936, -0.10), (0.0972, -0.11), (0.1008, -0.12), (0.1044, -0.11),
    (0.1080, -0.13), (0.1116, -0.12), (0.1152, -0.13), (0.1188, -0.14), (0.1224, -0.13), (0.1260, -0.15),
    (0.1296, -0.14), (0.1332, -0.15), (0.1368, -0.16), (0.1404, -0.15), (0.1440, -0.17), (0.1476, -0.16),
    (0.1512, -0.17), (0.1548, -0.18), (0.1584, -0.17), (0.1620, -0.19), (0.1656, -0.18), (0.1692, -0.19),
    (0.1728, -0.20), (0.1764, -0.19), (0.1800, -0.21), (0.1836, -0.20), (0.1872, -0.21), (0.1908, -0.22),
    (0.1944, -0.21), (0.1980, -0.23), (0.2016, -0.22), (0.2052, -0.23), (0.2088, -0.23), (0.2124, -0.24),
    (0.2160, -0.23), (0.2196, -0.24), (0.2232, -0.24), (0.2268, -0.25), (0.2304, -0.25), (0.2340, -0.26),
    (0.2376, -0.25), (0.2412, -0.26), (0.2448, -0.27), (0.2484, -0.26), (0.2520, -0.27), (0.2556, -0.28),
    (0.2592, -0.27), (0.2628, -0.28), (0.2677, -0.29),
    (0.2840, -0.29), (0.2914, -0.31), (0.3044, -0.33), (0.3138, -0.33), (0.3207, -0.33), (0.3382, -0.355),
    (0.3667, -0.37), (0.3737, -0.385), (0.3961, -0.405), (0.4055, -0.42), (0.4340, -0.445), (0.4857, -0.50),
]
T9_FIT = [(0.0000, 0.010), (0.0480, -0.015), (0.1455, 0.030), (0.2000, 0.040), (0.2500, 0.050),
          (0.2920, 0.057), (0.3200, 0.065), (0.3570, 0.080), (0.3900, 0.085), (0.4140, 0.093),
          (0.4500, 0.100), (0.4860, 0.108)]

PANEL_POINTS = [T1_PTS, T2_PTS, T3_PTS, T4_PTS, T5_PTS, T6_PTS, T7_PTS, T8_PTS, T9_PTS]
PANEL_FITS = [T1_FIT, T2_FIT, T3_FIT, T4_FIT, T5_FIT, T6_FIT, T7_FIT, T8_FIT, T9_FIT]

# ---------------------------------------------------------------------------
# Page geometry (pixels) and styling
# ---------------------------------------------------------------------------
W, H = 1673, 851
COL_LEFT = [72, 635, 1199]
COL_RIGHT = [502, 1064, 1626]
ROW_TOP = [51, 344, 639]
ROW_BOTTOM = [192, 484, 779]
TITLE_Y = [18, 313, 607]
XLAB_Y = [249, 545, 837]
YLAB_X = [20, 580, 1145]

FONT = "Liberation Sans, Arial, Helvetica, sans-serif"
FIT_COLOR = "#d10000"


def expanded(lo, hi, frac=0.04):
    pad = (hi - lo) * frac
    return [lo - pad, hi + pad]


fig = go.Figure()
annotations = []
shapes = []

for i in range(9):
    row, col = divmod(i, 3)
    ax = "" if i == 0 else str(i + 1)
    xref, yref = "x" + ax, "y" + ax

    pts = PANEL_POINTS[i]
    fit = PANEL_FITS[i]
    px = [p[0] for p in pts]
    py = [p[1] for p in pts]
    fx = [p[0] for p in fit]
    fy = [p[1] for p in fit]

    fig.add_trace(go.Scatter(
        x=px, y=py, mode="markers", xaxis=xref, yaxis=yref, showlegend=False,
        marker=dict(symbol="circle-open", size=6.5, color="black", line=dict(width=1.25, color="black")),
        hoverinfo="skip",
    ))
    fig.add_trace(go.Scatter(
        x=fx, y=fy, mode="lines", xaxis=xref, yaxis=yref, showlegend=False,
        line=dict(color=FIT_COLOR, width=4.5, shape="hv"), hoverinfo="skip",
    ))

    all_x = px + fx
    x_range = expanded(min(all_x), max(all_x))
    y_range = expanded(*Y_LIMITS)

    x0, x1 = COL_LEFT[col] / W, COL_RIGHT[col] / W
    y0, y1 = 1 - ROW_BOTTOM[row] / H, 1 - ROW_TOP[row] / H

    axis_common = dict(
        showline=True, mirror=True, linecolor="black", linewidth=1.2,
        ticks="outside", ticklen=7, tickwidth=1.2, tickcolor="black",
        showgrid=False, zeroline=False, fixedrange=True,
        tickfont=dict(family=FONT, size=14, color="#222222"),
    )
    fig.update_layout(**{
        "xaxis" + ax: dict(
            axis_common, domain=[x0, x1], range=x_range, anchor=yref,
            tickmode="array", tickvals=X_TICKS[i], ticktext=X_TICK_TEXT[i],
            ticklabelstandoff=8,
        ),
        "yaxis" + ax: dict(
            axis_common, domain=[y0, y1], range=y_range, anchor=xref,
            tickmode="array", tickvals=Y_TICKS, ticktext=Y_TICK_TEXT,
            tickangle=-90, ticklabelstandoff=3,
        ),
    })

    # horizontal reference line at zero
    shapes.append(dict(
        type="line", xref=xref + " domain", yref=yref, x0=0, x1=1, y0=0, y1=0,
        line=dict(color="black", width=1.3), layer="above",
    ))

    cx = (COL_LEFT[col] + COL_RIGHT[col]) / 2
    cy = (ROW_TOP[row] + ROW_BOTTOM[row]) / 2
    annotations.append(dict(
        text="<b>" + PANEL_TITLES[i] + "</b>", x=cx / W, y=1 - TITLE_Y[row] / H,
        xref="paper", yref="paper", xanchor="center", yanchor="middle", showarrow=False,
        font=dict(family=FONT, size=19, color="black"),
    ))
    annotations.append(dict(
        text=X_LABEL, x=cx / W, y=1 - XLAB_Y[row] / H,
        xref="paper", yref="paper", xanchor="center", yanchor="middle", showarrow=False,
        font=dict(family=FONT, size=19, color="#111111"),
    ))
    annotations.append(dict(
        text=Y_LABEL, x=YLAB_X[col] / W, y=1 - cy / H, textangle=-90,
        xref="paper", yref="paper", xanchor="center", yanchor="middle", showarrow=False,
        font=dict(family=FONT, size=20, color="#111111"),
    ))

fig.update_layout(
    width=W, height=H, margin=dict(l=0, r=0, t=0, b=0),
    paper_bgcolor="white", plot_bgcolor="white",
    annotations=annotations, shapes=shapes, showlegend=False,
)

fig.write_html("out.html")
